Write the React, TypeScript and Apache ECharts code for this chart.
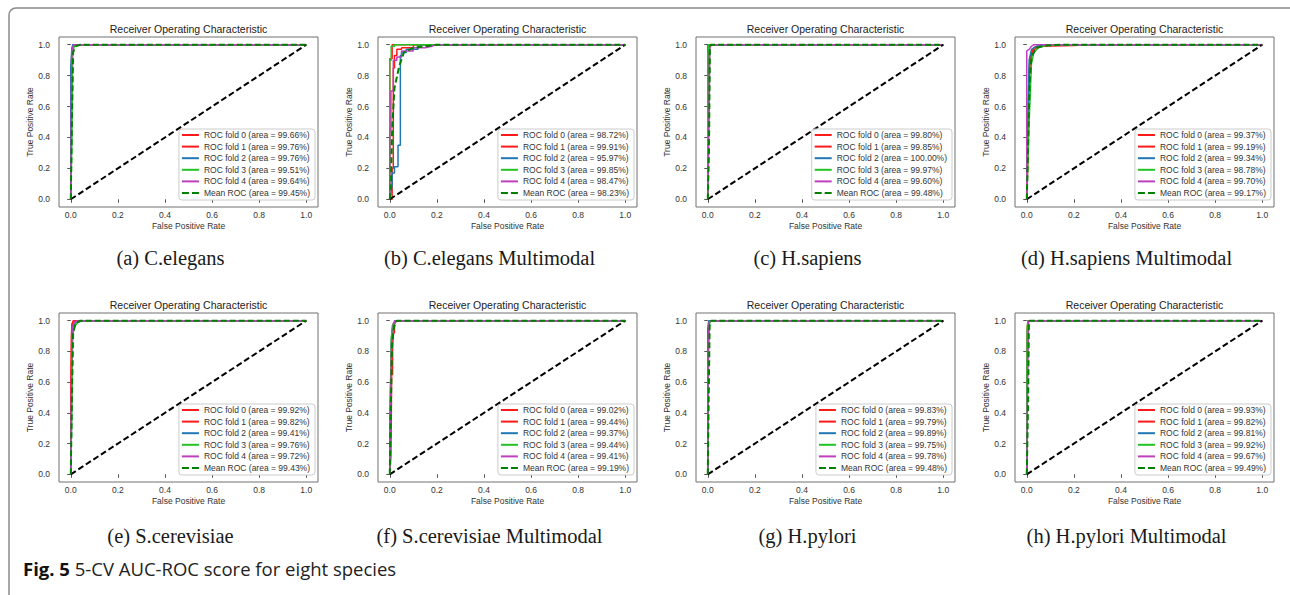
import React, { useEffect, useRef } from "react";
import * as echarts from "echarts";

// ---------- data ----------
const captions = [
  "(a) C.elegans",
  "(b) C.elegans Multimodal",
  "(c) H.sapiens",
  "(d) H.sapiens Multimodal",
  "(e) S.cerevisiae",
  "(f) S.cerevisiae Multimodal",
  "(g) H.pylori",
  "(h) H.pylori Multimodal",
];
const plotTitle = "Receiver Operating Characteristic";
const xAxisName = "False Positive Rate";
const yAxisName = "True Positive Rate";
const tickValues = [0, 0.2, 0.4, 0.6, 0.8, 1.0];
const figLabel = "Fig. 5";
const figText = " 5-CV AUC-ROC score for eight species";

// fold AUC (%) and mean AUC per panel
const areasA = ["99.66", "99.76", "99.76", "99.51", "99.64"]; const meanAreaA = "99.45";
const areasB = ["98.72", "99.91", "95.97", "99.85", "98.47"]; const meanAreaB = "98.23";
const areasC = ["99.80", "99.85", "100.00", "99.97", "99.60"]; const meanAreaC = "99.48";
const areasD = ["99.37", "99.19", "99.34", "98.78", "99.70"]; const meanAreaD = "99.17";
const areasE = ["99.92", "99.82", "99.41", "99.76", "99.72"]; const meanAreaE = "99.43";
const areasF = ["99.02", "99.44", "99.37", "99.44", "99.41"]; const meanAreaF = "99.19";
const areasG = ["99.83", "99.79", "99.89", "99.75", "99.78"]; const meanAreaG = "99.48";
const areasH = ["99.93", "99.82", "99.81", "99.92", "99.67"]; const meanAreaH = "99.49";

// ROC curves [fpr, tpr]
const rocA0 = [[0, 0], [0, 0.6], [0.003, 0.9], [0.006, 0.98], [0.012, 1], [1, 1]];
const rocA1 = [[0, 0], [0.002, 0.5], [0.004, 0.95], [0.01, 1], [1, 1]];
const rocA2 = [[0, 0], [0, 0.85], [0.004, 0.96], [0.008, 1], [1, 1]];
const rocA3 = [[0, 0], [0.005, 0.4], [0.008, 0.95], [0.015, 0.99], [0.025, 1], [1, 1]];
const rocA4 = [[0, 0], [0.003, 0.8], [0.006, 0.97], [0.012, 1], [1, 1]];
const meanA = [[0, 0], [0.005, 0.5], [0.01, 0.95], [0.02, 0.99], [0.04, 1], [1, 1]];

const rocB0 = [[0, 0], [0.01, 0], [0.01, 0.2], [0.015, 0.2], [0.015, 0.85], [0.02, 0.85], [0.02, 0.93], [0.03, 0.93], [0.03, 0.97], [0.05, 0.97], [0.05, 0.98], [0.1, 0.98], [0.1, 1], [1, 1]];
const rocB1 = [[0, 0], [0, 0.91], [0.01, 0.91], [0.01, 1], [1, 1]];
const rocB2 = [[0, 0], [0.01, 0.09], [0.01, 0.17], [0.02, 0.17], [0.02, 0.21], [0.035, 0.21], [0.035, 0.35], [0.045, 0.35], [0.045, 0.93], [0.05, 0.93], [0.05, 0.95], [0.07, 0.95], [0.07, 0.97], [0.12, 0.97], [0.12, 1], [1, 1]];
const rocB3 = [[0, 0], [0, 0.9], [0.006, 0.9], [0.006, 0.99], [0.02, 0.99], [0.02, 1], [1, 1]];
const rocB4 = [[0, 0], [0, 0.45], [0.005, 0.45], [0.005, 0.7], [0.015, 0.7], [0.015, 0.9], [0.03, 0.9], [0.03, 0.92], [0.05, 0.92], [0.05, 0.96], [0.1, 0.96], [0.1, 0.98], [0.15, 0.98], [0.18, 0.99], [0.19, 1], [1, 1]];
const meanB = [[0, 0], [0.005, 0.1], [0.01, 0.45], [0.02, 0.72], [0.04, 0.86], [0.06, 0.95], [0.1, 0.98], [0.2, 1], [1, 1]];

const rocC0 = [[0, 0], [0.003, 0.5], [0.005, 0.93], [0.008, 1], [1, 1]];
const rocC1 = [[0, 0], [0.002, 0.9], [0.006, 1], [1, 1]];
const rocC2 = [[0, 0], [0, 1], [1, 1]];
const rocC3 = [[0, 0], [0, 0.93], [0.003, 1], [1, 1]];
const rocC4 = [[0, 0], [0.006, 0.6], [0.009, 0.98], [0.012, 1], [1, 1]];
const meanC = [[0, 0], [0.005, 0.3], [0.009, 0.98], [0.013, 1], [1, 1]];

const rocD0 = [[0, 0], [0.005, 0.3], [0.01, 0.85], [0.02, 0.95], [0.03, 0.98], [0.06, 0.99], [0.2, 0.995], [0.25, 1], [1, 1]];
const rocD1 = [[0, 0], [0.008, 0.7], [0.015, 0.9], [0.025, 0.96], [0.05, 0.99], [0.1, 1], [1, 1]];
const rocD2 = [[0, 0], [0, 0.28], [0.005, 0.5], [0.01, 0.9], [0.02, 0.97], [0.04, 0.99], [0.08, 1], [1, 1]];
const rocD3 = [[0, 0], [0.01, 0.5], [0.02, 0.88], [0.03, 0.95], [0.05, 0.98], [0.08, 0.995], [0.15, 1], [1, 1]];
const rocD4 = [[0, 0], [0, 0.96], [0.01, 0.97], [0.02, 0.99], [0.03, 1], [1, 1]];
const meanD = [[0, 0], [0.005, 0.3], [0.012, 0.75], [0.02, 0.92], [0.04, 0.98], [0.08, 0.995], [0.15, 1], [1, 1]];

const rocE0 = [[0, 0], [0, 0.55], [0.003, 0.9], [0.005, 0.98], [0.01, 0.99], [0.02, 1], [1, 1]];
const rocE1 = [[0, 0], [0.002, 0.7], [0.004, 0.96], [0.01, 1], [1, 1]];
const rocE2 = [[0, 0], [0.003, 0.3], [0.006, 0.9], [0.01, 0.97], [0.03, 1], [1, 1]];
const rocE3 = [[0, 0], [0.004, 0.4], [0.008, 0.9], [0.015, 0.96], [0.03, 0.99], [0.05, 1], [1, 1]];
const rocE4 = [[0, 0], [0.003, 0.6], [0.006, 0.95], [0.015, 0.99], [0.03, 1], [1, 1]];
const meanE = [[0, 0], [0.005, 0.5], [0.01, 0.92], [0.02, 0.98], [0.04, 1], [1, 1]];

const rocF0 = [[0, 0], [0.005, 0.12], [0.008, 0.65], [0.012, 0.65], [0.012, 0.82], [0.015, 0.82], [0.015, 0.92], [0.02, 0.92], [0.02, 0.98], [0.03, 1], [1, 1]];
const rocF1 = [[0, 0], [0.003, 0.5], [0.006, 0.75], [0.01, 0.93], [0.015, 0.98], [0.025, 1], [1, 1]];
const rocF2 = [[0, 0], [0.002, 0.4], [0.006, 0.85], [0.012, 0.97], [0.025, 1], [1, 1]];
const rocF3 = [[0, 0], [0.002, 0.45], [0.006, 0.88], [0.012, 0.97], [0.02, 0.99], [0.03, 1], [1, 1]];
const rocF4 = [[0, 0], [0.004, 0.5], [0.008, 0.9], [0.015, 0.9], [0.015, 0.97], [0.02, 1], [1, 1]];
const meanF = [[0, 0], [0.004, 0.4], [0.01, 0.85], [0.018, 0.96], [0.03, 1], [1, 1]];

const rocG0 = [[0, 0], [0.002, 0.9], [0.005, 0.99], [0.01, 1], [1, 1]];
const rocG1 = [[0, 0], [0.003, 0.85], [0.006, 0.98], [0.012, 1], [1, 1]];
const rocG2 = [[0, 0], [0, 0.95], [0.004, 1], [1, 1]];
const rocG3 = [[0, 0], [0.003, 0.8], [0.007, 0.98], [0.013, 1], [1, 1]];
const rocG4 = [[0, 0], [0.002, 0.88], [0.006, 0.99], [0.01, 1], [1, 1]];
const meanG = [[0, 0], [0.004, 0.5], [0.008, 0.97], [0.015, 1], [1, 1]];

const rocH0 = [[0, 0], [0.002, 0.95], [0.005, 1], [1, 1]];
const rocH1 = [[0, 0], [0.003, 0.9], [0.006, 1], [1, 1]];
const rocH2 = [[0, 0], [0.003, 0.92], [0.006, 1], [1, 1]];
const rocH3 = [[0, 0], [0.002, 0.96], [0.005, 1], [1, 1]];
const rocH4 = [[0, 0], [0.005, 0.8], [0.008, 1], [1, 1]];
const meanH = [[0, 0], [0.006, 0.5], [0.009, 0.99], [0.012, 1], [1, 1]];

const chanceLine = [[0, 0], [1, 1]];

const panelFolds = [
  [rocA0, rocA1, rocA2, rocA3, rocA4],
  [rocB0, rocB1, rocB2, rocB3, rocB4],
  [rocC0, rocC1, rocC2, rocC3, rocC4],
  [rocD0, rocD1, rocD2, rocD3, rocD4],
  [rocE0, rocE1, rocE2, rocE3, rocE4],
  [rocF0, rocF1, rocF2, rocF3, rocF4],
  [rocG0, rocG1, rocG2, rocG3, rocG4],
  [rocH0, rocH1, rocH2, rocH3, rocH4],
];
const panelMeans = [meanA, meanB, meanC, meanD, meanE, meanF, meanG, meanH];
const panelAreas = [areasA, areasB, areasC, areasD, areasE, areasF, areasG, areasH];
const panelMeanAreas = [meanAreaA, meanAreaB, meanAreaC, meanAreaD, meanAreaE, meanAreaF, meanAreaG, meanAreaH];

// ---------- styles / layout ----------
const W = 1290;
const H = 595;
const colLefts = [59, 378, 696, 1015];
const gridW = 259;
const rowTops = [37, 313];
const gridHs = [170, 169];
const titleTops = [23.5, 299.5];
const captionYs = [258, 536];
const foldColors = ["#ff1a1a", "#ff1a1a", "#1f77b4", "#22c322", "#bf3fbf"];
const meanColor = "#008000";
const sans = "'Liberation Sans', Arial, sans-serif";
const serif = "'Liberation Serif', 'Times New Roman', serif";
const solidIcon = "path://M0,0h17v2h-17z";
const dashedIcon = "path://M0,0h7v2h-7zM10,0h7v2h-7z";

export default function App() {
  const ref = useRef<HTMLDivElement>(null);

  useEffect(() => {
    if (!ref.current) return;
    const chart = echarts.init(ref.current, null, { renderer: "svg" });

    const grids: any[] = [];
    const xAxes: any[] = [];
    const yAxes: any[] = [];
    const titles: any[] = [];
    const legends: any[] = [];
    const series: any[] = [];
    const graphics: any[] = [];

    graphics.push({
      type: "rect",
      shape: { x: 9, y: 8, width: 2000, height: 2000, r: 7 },
      style: { fill: "none", stroke: "#8a8a8a", lineWidth: 1.5 },
      silent: true,
      z: 0,
    });

    for (let i = 0; i < 8; i++) {
      const row = Math.floor(i / 4);
      const col = i % 4;
      const left = colLefts[col];
      const top = rowTops[row];
      const gh = gridHs[row];
      grids.push({
        left, top, width: gridW, height: gh,
        show: true, borderColor: "#707070", borderWidth: 1, backgroundColor: "transparent",
        containLabel: false,
      });
      const axisCommon = {
        gridIndex: i,
        type: "value",
        min: -0.05,
        max: 1.05,
        nameLocation: "middle",
        nameTextStyle: { fontSize: 8.5, color: "#333", fontFamily: sans },
        axisLine: { show: false },
        axisTick: { show: true, length: 3.5, lineStyle: { color: "#555", width: 1 }, customValues: tickValues },
        splitLine: { show: false },
      };
      xAxes.push({
        ...axisCommon,
        name: xAxisName,
        nameGap: 14,
        axisLabel: { customValues: tickValues, formatter: (v: number) => v.toFixed(1), fontSize: 8.5, color: "#333", margin: 3, fontFamily: sans },
      });
      yAxes.push({
        ...axisCommon,
        name: yAxisName,
        nameGap: 20,
        axisLabel: { customValues: tickValues, formatter: (v: number) => v.toFixed(1), fontSize: 8.5, color: "#333", margin: 9, fontFamily: sans },
      });
      titles.push({
        text: plotTitle,
        left: left + gridW / 2,
        top: titleTops[row],
        textAlign: "center",
        padding: 0,
        textStyle: { fontSize: 10.5, fontWeight: "normal", color: "#222", fontFamily: sans },
      });

      const legendData: any[] = [];
      panelFolds[i].forEach((d, k) => {
        const name = `ROC fold ${k} (area = ${panelAreas[i][k]}%)`;
        legendData.push({ name, icon: solidIcon });
        series.push({
          type: "line", name, xAxisIndex: i, yAxisIndex: i, data: d,
          symbol: "none", showSymbol: false, silent: true,
          lineStyle: { color: foldColors[k], width: 1.5 },
          itemStyle: { color: foldColors[k] },
        });
      });
      series.push({
        type: "line", name: "_chance" + i, xAxisIndex: i, yAxisIndex: i, data: chanceLine,
        symbol: "none", showSymbol: false, silent: true,
        lineStyle: { color: "#000", width: 2, type: [6, 3] },
        itemStyle: { color: "#000" },
      });
      const meanName = `Mean ROC (area = ${panelMeanAreas[i]}%)`;
      legendData.push({ name: meanName, icon: dashedIcon });
      series.push({
        type: "line", name: meanName, xAxisIndex: i, yAxisIndex: i, data: panelMeans[i],
        symbol: "none", showSymbol: false, silent: true,
        lineStyle: { color: meanColor, width: 2, type: [6, 3] },
        itemStyle: { color: meanColor },
      });

      legends.push({
        data: legendData,
        orient: "vertical",
        right: W - (left + gridW - 3),
        bottom: H - (top + gh - 7),
        itemWidth: 17,
        itemHeight: 2,
        itemGap: 1.6,
        padding: [1, 5, 2, 3],
        selectedMode: false,
        symbolKeepAspect: false,
        itemStyle: { borderWidth: 0 },
        lineStyle: { width: 0 },
        backgroundColor: "rgba(255,255,255,0.85)",
        borderColor: "#cccccc",
        borderWidth: 1,
        borderRadius: 3,
        textStyle: { fontSize: 8.5, color: "#333", fontFamily: sans, lineHeight: 10 },
      });

      graphics.push({
        type: "text",
        x: left + gridW / 2 - 18,
        y: captionYs[row],
        silent: true,
        style: {
          text: captions[i],
          fontSize: 20.5,
          fontFamily: serif,
          fill: "#1a1a1a",
          align: "center",
          verticalAlign: "middle",
        },
      });
    }

    graphics.push({
      type: "text",
      x: 23,
      y: 568,
      silent: true,
      style: {
        text: `{b|${figLabel}}{n|${figText}}`,
        verticalAlign: "middle",
        align: "left",
        rich: {
          b: { fontSize: 18.5, fontWeight: "bold", fontFamily: "'Open Sans', sans-serif", fill: "#111" },
          n: { fontSize: 18.5, fontFamily: "'Open Sans', sans-serif", fill: "#222" },
        },
      },
    });

    chart.setOption({
      animation: false,
      backgroundColor: "#ffffff",
      title: titles,
      grid: grids,
      xAxis: xAxes,
      yAxis: yAxes,
      legend: legends,
      series,
      graphic: graphics,
    });

    return () => chart.dispose();
  }, []);

  return (
    <div
      ref={ref}
      style={{ position: "absolute", left: 0, top: 0, width: W, height: H }}
    />
  );
}
